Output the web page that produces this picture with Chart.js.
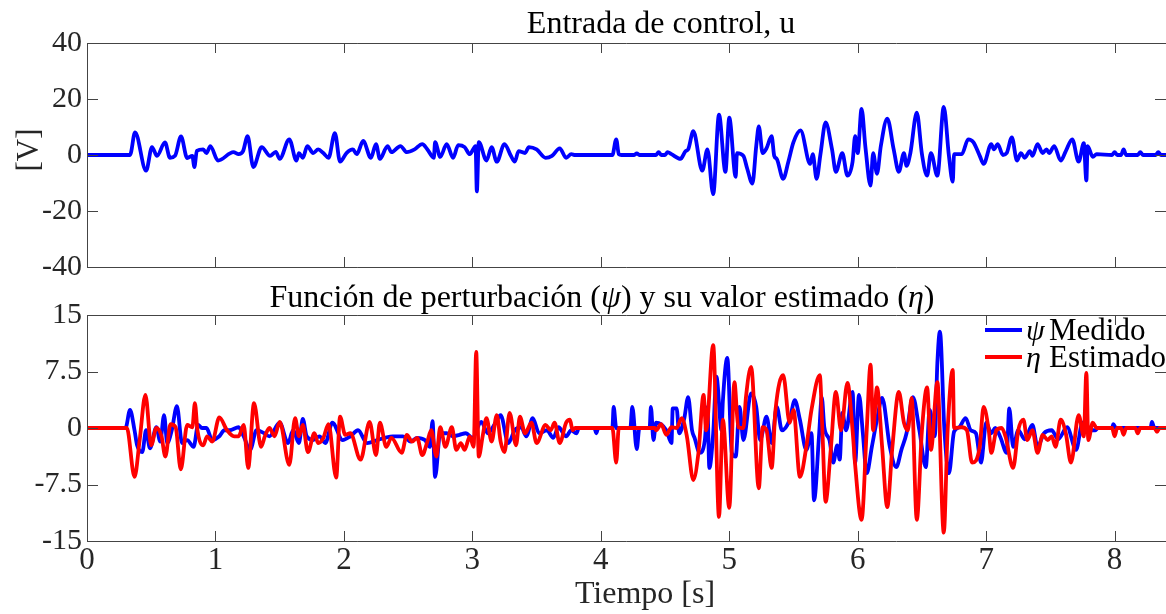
<!DOCTYPE html>
<html>
<head>
<meta charset="utf-8">
<script src="https://cdn.jsdelivr.net/npm/chart.js@4.4.1/dist/chart.umd.min.js"></script>
<style>
  body { margin: 0; background: #fff; width: 1166px; height: 614px; overflow: hidden; }
  canvas { position: absolute; left: 0; }
  #uChart { top: 0; }
  #dChart { top: 275px; }
</style>
</head>
<body>
<canvas id="uChart" width="1166" height="290"></canvas>
<canvas id="dChart" width="1166" height="339"></canvas>
<script>
// Entrada de control u [V]
const uTime = [0, 0.335, 0.374, 0.46, 0.506, 0.545, 0.607, 0.646, 0.685, 0.732, 0.78, 0.82, 0.836, 0.855, 0.905, 0.93, 0.96, 1.02, 1.14, 1.18,
  1.215, 1.25, 1.295, 1.36, 1.425, 1.47, 1.5, 1.575, 1.63, 1.65, 1.68, 1.715, 1.76, 1.8, 1.84, 1.88, 1.93, 1.97, 2.02, 2.07,
  2.1, 2.15, 2.21, 2.25, 2.28, 2.34, 2.37, 2.44, 2.49, 2.55, 2.61, 2.65, 2.70, 2.71, 2.75, 2.80, 2.85, 2.89, 2.94, 2.98,
  3.025, 3.035, 3.05, 3.11, 3.15, 3.19, 3.25, 3.30, 3.33, 3.36, 3.41, 3.44, 3.50, 3.57, 3.62, 3.68, 3.73, 3.77, 3.8, 4.09,
  4.12, 4.14, 4.16, 4.26, 4.28, 4.30, 4.43, 4.45, 4.47, 4.50, 4.52, 4.55, 4.62, 4.66, 4.68, 4.72, 4.79, 4.83, 4.875, 4.92,
  4.97, 5.0, 5.05, 5.06, 5.11, 5.14, 5.18, 5.21, 5.23, 5.26, 5.29, 5.33, 5.35, 5.37, 5.42, 5.46, 5.50, 5.555, 5.63, 5.65,
  5.68, 5.71, 5.75, 5.80, 5.83, 5.88, 5.92, 5.96, 5.98, 6.0, 6.03, 6.06, 6.10, 6.12, 6.15, 6.18, 6.23, 6.28, 6.32, 6.36,
  6.38, 6.41, 6.46, 6.50, 6.54, 6.57, 6.62, 6.67, 6.71, 6.74, 6.75, 6.81, 6.86, 6.90, 6.95, 6.98, 7.04, 7.06, 7.09, 7.13,
  7.16, 7.20, 7.24, 7.27, 7.30, 7.34, 7.36, 7.40, 7.44, 7.47, 7.49, 7.53, 7.58, 7.62, 7.67, 7.72, 7.76, 7.78, 7.79, 7.83,
  7.86, 7.98, 8.0, 8.02, 8.05, 8.07, 8.09, 8.18, 8.2, 8.22, 8.32, 8.34, 8.36, 8.4];
const uValue = [0, 0, 8.1, -5.6, 2.8, -0.3, 4.5, -1, -0.3, 6.6, -1.1, -0.3, -4.3, 1.5, 2, 0.7, 3.2, -2, 1, 0.3,
  1.4, 6.7, -4.3, 2.8, -0.3, 1.1, -1.4, 5.6, -2, 0.7, -1, 3.2, 0.7, 2, 0.7, -1, 7.8, -2.4, 0.7, 2,
  0.3, 5, -1, 3.9, -1.4, 3.2, 1, 3.2, 1, 2, 3.9, 2, -1, 4.6, -0.7, 3.9, -1, 3.5, 2.8, 0.3,
  3.2, -13, 4.6, -2, 2.8, -2.4, 3.9, -0.3, -2.4, 1.4, 0.7, 2.8, 2, -1, -0.3, 2.4, -1, 0.3, 0, 0,
  5.6, 0.3, 0, 0, 0.6, 0, 0, 1, 0, 0, 1, 0.3, -1.4, 1.4, 2, 8.5, -5.6, 2, -14, 14.4,
  -6, 13.3, -7.8, 0.7, -0.3, -4.9, -10.2, 3.2, 10.2, 0.7, 2.4, 6.7, -0.3, -1.4, -8.5, -2.4, 4.6, 8.8, -3.2, 0.3,
  -8.5, 0.3, 11.6, 2, -6, 0.7, -7.4, -2.4, 6.7, 0.7, 16.5, 2.8, -10.9, 0.7, -6.7, 3.2, 13, 2, -6, 0.7,
  -3.9, 0.7, 15.1, 0.3, -7.4, 0.7, -7.4, 17.2, -0.3, -9.5, 0.3, 0.3, 5.6, 4.6, -0.3, -3.2, 3.9, 2, 3.9, 0,
  0.7, 6.3, -2, 0.7, -1, 1.4, -0.3, 3.9, 0.7, 2, 0.7, 3.2, -2, 1.4, 5.6, -2.4, 4.2, -9.1, 3.2, -0.7,
  0.3, 0, 1, 0, 0, 2, 0, 0, 1, 0, 0, 1, 0, 0];

// psi medido
const psiTime = [0, 0.30, 0.335, 0.37, 0.39, 0.43, 0.46, 0.49, 0.54, 0.57, 0.60, 0.625, 0.66, 0.70, 0.74, 0.78, 0.83, 0.865, 0.895, 0.93,
  0.975, 1.03, 1.07, 1.11, 1.18, 1.22, 1.27, 1.32, 1.38, 1.42, 1.50, 1.565, 1.605, 1.65, 1.68, 1.71, 1.76, 1.81, 1.855, 1.91,
  1.99, 2.05, 2.11, 2.18, 2.26, 2.32, 2.38, 2.46, 2.52, 2.57, 2.63, 2.67, 2.69, 2.71, 2.75, 2.80, 2.85, 2.90, 2.95, 3.0,
  3.07, 3.12, 3.18, 3.22, 3.28, 3.33, 3.38, 3.42, 3.47, 3.52, 3.58, 3.63, 3.67, 3.73, 3.77, 3.81, 3.83, 3.95, 3.965, 3.98,
  4.09, 4.10, 4.12, 4.23, 4.245, 4.28, 4.30, 4.38, 4.39, 4.41, 4.43, 4.51, 4.55, 4.56, 4.59, 4.61, 4.65, 4.68, 4.71, 4.73,
  4.77, 4.81, 4.83, 4.845, 4.875, 4.90, 4.94, 4.95, 4.985, 5.02, 5.05, 5.08, 5.11, 5.17, 5.21, 5.24, 5.29, 5.33, 5.37, 5.41,
  5.47, 5.51, 5.55, 5.60, 5.64, 5.66, 5.70, 5.72, 5.74, 5.78, 5.81, 5.84, 5.86, 5.88, 5.91, 5.96, 5.98, 6.01, 6.04, 6.07,
  6.11, 6.15, 6.19, 6.25, 6.30, 6.34, 6.38, 6.43, 6.48, 6.53, 6.56, 6.60, 6.62, 6.64, 6.675, 6.71, 6.75, 6.79, 6.84, 6.88,
  6.92, 6.96, 7.00, 7.04, 7.07, 7.11, 7.16, 7.18, 7.21, 7.25, 7.30, 7.36, 7.40, 7.45, 7.51, 7.56, 7.63, 7.70, 7.75, 7.80,
  7.85, 7.87, 7.98, 7.99, 8.01, 8.28, 8.29, 8.31, 8.4];
const psiValue = [0, 0, 2.4, -0.3, -2.3, -3.2, -0.3, -2.7, 0.1, -1.8, 1.7, -2.0, -0.3, 2.9, -2, -1.6, -2.5, 0.4, 0, 0,
  -1.6, -1.1, -0.3, -0.3, 0.1, -1.1, -2.9, -0.3, -0.7, -1.1, 0.7, -2, -0.3, -2, 1.2, -1.1, -1.6, -1.1, -2, 0.7,
  -1.6, -1.1, -0.3, -2, -1.6, -1.3, -1.1, -1.1, -1.8, -1.3, -1.6, -2.5, 0.9, -6.5, -0.7, -0.7, -1.1, -0.9, -0.7, -1.3,
  0.8, -0.7, 0.7, 1.7, -2, -0.3, 0.1, -1.1, 1.3, -0.7, -0.3, -1.3, 0.1, -1.1, -0.3, -0.7, 0, 0, -0.7, 0,
  0, 2.8, 0, 0, 2.8, -2.8, 0, 0, 2.8, -1.6, 0.7, -0.3, -2, 2.6, 2.6, -0.7, 1.3, 4.1, -0.3, -1.3,
  -3.3, -1.6, 2.8, -5.3, -0.7, 6.8, -0.3, 3.5, 9.3, -3.3, -3.8, 2.8, -1.6, 4.6, 2.8, -1.6, 1.5, -2, 2.8, -0.3,
  1.1, 3.7, 1.1, -2.9, -0.7, -9.6, -0.7, 4.1, 0.1, -1.6, -4.6, -2.3, -4.2, 2, -0.3, 4.8, -4.6, 4.4, -0.7, -6,
  -2.5, 1.1, 4, -2.5, -5.2, -2.9, -0.7, 4.1, -0.3, -5.2, 2.4, -1.1, 8.6, 12.8, -0.3, -6, -0.5, 0.1, 1.3, -0.3,
  -0.7, -4.6, 0.7, -0.7, 0, -1.2, -3.3, 2.6, -2.5, -0.3, -1.5, 0.4, -2.5, -0.7, -0.3, -1.5, 0.1, -2.9, 0.7, -0.3,
  -0.3, 0, 0, 0.5, 0, 0, 0.8, 0, 0];

// eta estimado
const etaTime = [0, 0.31, 0.37, 0.41, 0.455, 0.50, 0.54, 0.58, 0.61, 0.65, 0.69, 0.73, 0.78, 0.82, 0.84, 0.86, 0.905, 0.935, 0.975, 1.03,
  1.09, 1.145, 1.18, 1.22, 1.255, 1.30, 1.355, 1.385, 1.42, 1.46, 1.50, 1.575, 1.62, 1.65, 1.68, 1.72, 1.77, 1.80, 1.84, 1.88,
  1.94, 1.97, 2.01, 2.05, 2.13, 2.20, 2.25, 2.28, 2.33, 2.37, 2.45, 2.49, 2.53, 2.57, 2.61, 2.65, 2.68, 2.72, 2.75, 2.79,
  2.84, 2.875, 2.91, 2.94, 2.98, 3.01, 3.03, 3.05, 3.08, 3.11, 3.15, 3.19, 3.22, 3.25, 3.29, 3.34, 3.37, 3.41, 3.46, 3.50,
  3.57, 3.61, 3.64, 3.68, 3.73, 3.76, 3.78, 3.80, 4.09, 4.12, 4.14, 4.42, 4.43, 4.47, 4.51, 4.55, 4.59, 4.63, 4.67, 4.72,
  4.76, 4.80, 4.82, 4.875, 4.92, 4.95, 5.0, 5.04, 5.07, 5.11, 5.13, 5.17, 5.23, 5.26, 5.29, 5.33, 5.36, 5.42, 5.47, 5.50,
  5.55, 5.60, 5.64, 5.705, 5.725, 5.75, 5.79, 5.83, 5.87, 5.92, 5.96, 5.98, 6.03, 6.07, 6.10, 6.12, 6.15, 6.19, 6.23, 6.27,
  6.32, 6.36, 6.39, 6.42, 6.46, 6.50, 6.54, 6.57, 6.62, 6.67, 6.70, 6.74, 6.75, 6.81, 6.85, 6.89, 6.95, 6.98, 7.02, 7.04,
  7.08, 7.12, 7.15, 7.21, 7.25, 7.29, 7.32, 7.36, 7.40, 7.44, 7.48, 7.51, 7.54, 7.58, 7.62, 7.66, 7.72, 7.76, 7.78, 7.795,
  7.83, 7.86, 7.98, 8.0, 8.02, 8.05, 8.07, 8.09, 8.16, 8.18, 8.20, 8.31, 8.33, 8.35, 8.4];
const etaValue = [0, 0, -6.5, -1.6, 4.4, -2.3, 0, -1.1, -3.8, 0.5, 0.1, -5.5, 0.4, 0.1, 3.3, -0.3, -2.3, -1.1, -1.8, 1.4,
  -0.3, -1.1, -1.1, 0.4, -5.3, 3.3, -2.5, -1.1, 0, -1.1, 0.8, -4.9, 1.3, -1.1, 0.4, -3.2, -0.7, -2, -1.3, 0.5,
  -6.6, 1.5, -0.9, -0.7, -4.2, 0.8, -3.6, 0.7, -2.5, -1.3, -3.3, -0.9, -1.8, -1.3, -3.6, -1.8, -0.3, -3.8, 0.1, -2.5,
  0.1, -2.9, -2, -2.9, -1.1, -2.5, 10.1, -3.8, -1.1, 1.3, -1.8, 1.7, -1.8, -3.2, 2, -2.3, 1.5, -0.7, 0.7, -2,
  0.4, -0.3, 0.7, -2, 0.7, 1.1, -0.3, 0, 0, -4.6, 0, 0, -0.3, 0.5, -0.9, 0.1, 0, 1.3, -1.1, -6.9,
  -3.3, 4.4, -0.3, 11, -11.8, 1.1, -10.6, 6.1, 0.1, 0, 4.1, 8.1, -8, 0.1, -0.3, -5.3, 2.4, 7, 0.7, 2.4,
  -6.5, -2.5, 2.4, 7, -0.3, -9.8, -2.9, 4.8, -0.3, 6, -0.3, -4.9, -12.2, -0.3, 8.4, -0.3, 5.4, -2.5, -10.5, -2.5,
  4.8, 0.7, -0.3, 4, -12.2, -0.3, 5.4, -2.9, 6.1, -13.9, -0.3, 7.7, 0, 0.1, -0.3, -4.6, -2.5, 2.8, -0.3, -3.3,
  -0.3, 0, -1.1, -5.3, -0.3, 1.1, -1.6, -0.3, -3.3, -0.9, -1.6, -1.1, -2.5, 1.1, -0.7, -4.6, 1.7, -1.1, 7.3, -1.6,
  0.7, 0, 0, -1.1, 0, 0, -0.9, 0, 0, -0.7, 0, 0, -0.5, 0, 0];

const uTicks = [-40, -20, 0, 20, 40];
const dTicks = [-15, -7.5, 0, 7.5, 15];
const tMax = 8.4;

const FONT = "'Liberation Serif', 'Times New Roman', serif";
const INK = '#262626';
Chart.defaults.font.family = FONT;
Chart.defaults.color = INK;

const pts = (t, v) => t.map((x, i) => ({ x: x, y: v[i] }));

// caja de ejes con marcas hacia dentro
const frame = {
  id: 'frame',
  afterDraw(chart) {
    const { ctx, chartArea: a, scales: { x, y } } = chart;
    ctx.save();
    ctx.strokeStyle = '#444';
    ctx.lineWidth = 1;
    ctx.beginPath();
    ctx.moveTo(a.right, Math.round(a.top) + 0.5);
    ctx.lineTo(Math.round(a.left) + 0.5, Math.round(a.top) + 0.5);
    ctx.lineTo(Math.round(a.left) + 0.5, Math.round(a.bottom) + 0.5);
    ctx.lineTo(a.right, Math.round(a.bottom) + 0.5);
    x.ticks.forEach(t => {
      const px = Math.round(x.getPixelForValue(t.value)) + 0.5;
      ctx.moveTo(px, a.top); ctx.lineTo(px, a.top + 10);
      ctx.moveTo(px, a.bottom); ctx.lineTo(px, a.bottom - 10);
    });
    y.ticks.forEach(t => {
      const py = Math.round(y.getPixelForValue(t.value)) + 0.5;
      ctx.moveTo(a.left, py); ctx.lineTo(a.left + 11, py);
      ctx.moveTo(a.right - 11, py); ctx.lineTo(a.right, py);
    });
    ctx.stroke();
    ctx.restore();
  }
};

function richText(ctx, parts, cx, base, size) {
  const fontOf = p => (p.it ? 'italic ' : '') + size + 'px ' + FONT;
  let w = 0;
  parts.forEach(p => { ctx.font = fontOf(p); w += ctx.measureText(p.t).width; });
  let x = cx - w / 2;
  ctx.textAlign = 'left';
  ctx.textBaseline = 'alphabetic';
  parts.forEach(p => { ctx.font = fontOf(p); ctx.fillText(p.t, x, base); x += ctx.measureText(p.t).width; });
}

const xScale = (show) => ({
  type: 'linear', min: 0, max: tMax, display: show,
  grid: { display: false, drawTicks: false }, border: { display: false },
  ticks: { stepSize: 1, includeBounds: false, padding: 1, color: INK, font: { size: 31 } },
  afterFit: s => { if (show) s.height = 73; }
});

const yScale = (ticks) => ({
  min: ticks[0], max: ticks[ticks.length - 1],
  grid: { display: false, drawTicks: false }, border: { display: false },
  afterBuildTicks: s => { s.ticks = ticks.map(v => ({ value: v })); },
  ticks: { padding: 5, color: INK, font: { size: 30 }, callback: v => String(v) },
  afterFit: s => { s.width = 87; }
});

const line = (label, data, color, order) => ({
  label: label, data: data, borderColor: color, backgroundColor: color,
  borderWidth: 3.8, pointRadius: 0, fill: false, order: order,
  cubicInterpolationMode: 'monotone'
});

// GRAFICO SUPERIOR - Entrada de control
new Chart(document.getElementById('uChart'), {
  type: 'line',
  data: { datasets: [line('u', pts(uTime, uValue), '#0000ff', 1)] },
  options: {
    responsive: false, animation: false, devicePixelRatio: 1,
    layout: { padding: { top: 43, bottom: 20, left: 0, right: 0 } },
    plugins: { legend: { display: false }, tooltip: { enabled: false } },
    scales: { x: xScale(false), y: yScale(uTicks) }
  },
  plugins: [frame, {
    id: 'textosU',
    afterDraw(chart) {
      const ctx = chart.ctx;
      ctx.save();
      ctx.fillStyle = '#000';
      richText(ctx, [{ t: 'Entrada de control, u' }], 661, 33, 32);
      ctx.translate(38, 150);
      ctx.rotate(-Math.PI / 2);
      ctx.font = '31px ' + FONT;
      ctx.fillStyle = INK;
      ctx.textAlign = 'center';
      ctx.textBaseline = 'alphabetic';
      ctx.fillText('[V]', 0, 0);
      ctx.restore();
    }
  }]
});

// GRAFICO INFERIOR - perturbacion medida y estimada
new Chart(document.getElementById('dChart'), {
  type: 'line',
  data: {
    datasets: [
      line('ψ Medido', pts(psiTime, psiValue), '#0000ff', 2),
      line('η Estimado', pts(etaTime, etaValue), '#ff0000', 1)
    ]
  },
  options: {
    responsive: false, animation: false, devicePixelRatio: 1,
    layout: { padding: { top: 40, bottom: 0, left: 0, right: 0 } },
    plugins: { legend: { display: false }, tooltip: { enabled: false } },
    scales: { x: xScale(true), y: yScale(dTicks) }
  },
  plugins: [frame, {
    id: 'textosD',
    afterDraw(chart) {
      const ctx = chart.ctx;
      ctx.save();
      ctx.fillStyle = '#000';
      richText(ctx, [
        { t: 'Función de perturbación (' }, { t: 'ψ', it: true },
        { t: ') y su valor estimado (' }, { t: 'η', it: true }, { t: ')' }
      ], 602, 32, 32);
      ctx.fillStyle = INK;
      richText(ctx, [{ t: 'Tiempo [s]' }], 645, 328, 32);

      // leyenda
      const items = [
        { sym: 'ψ', txt: 'Medido', color: '#0000ff', y: 55, base: 65 },
        { sym: 'η', txt: 'Estimado', color: '#ff0000', y: 82, base: 92 }
      ];
      items.forEach(it => {
        ctx.strokeStyle = it.color;
        ctx.lineWidth = 3.8;
        ctx.beginPath();
        ctx.moveTo(985, it.y);
        ctx.lineTo(1022, it.y);
        ctx.stroke();
        ctx.fillStyle = '#000';
        ctx.textAlign = 'left';
        ctx.textBaseline = 'alphabetic';
        ctx.font = 'italic 30px ' + FONT;
        ctx.fillText(it.sym, 1026, it.base);
        ctx.font = '31px ' + FONT;
        ctx.fillText(it.txt, 1049, it.base);
      });
      ctx.restore();
    }
  }]
});
</script>
</body>
</html>
